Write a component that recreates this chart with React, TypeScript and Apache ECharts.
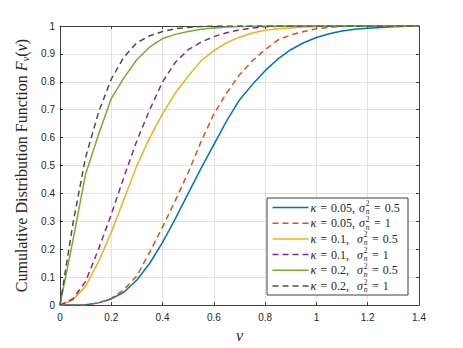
import React, { useEffect, useRef } from "react";
import * as echarts from "echarts";

// x grid of the curves
const V = [0, 0.05, 0.1, 0.15, 0.2, 0.25, 0.3, 0.35, 0.4, 0.45, 0.5, 0.55, 0.6, 0.65, 0.7, 0.75, 0.8, 0.85, 0.9, 0.95, 1.0, 1.05, 1.1, 1.15, 1.2, 1.25, 1.3, 1.35, 1.4];

// CDF values
const F_K005_S05 = [0, 0, 0.001, 0.008, 0.022, 0.047, 0.09, 0.15, 0.225, 0.31, 0.4, 0.49, 0.575, 0.66, 0.735, 0.79, 0.84, 0.882, 0.915, 0.94, 0.959, 0.972, 0.982, 0.988, 0.992, 0.995, 0.997, 0.999, 1];
const F_K005_S1 = [0, 0, 0.001, 0.008, 0.024, 0.056, 0.105, 0.19, 0.28, 0.375, 0.475, 0.585, 0.685, 0.76, 0.825, 0.875, 0.915, 0.95, 0.968, 0.98, 0.99, 0.995, 0.998, 0.999, 1, 1, 1, 1, 1];
const F_K01_S05 = [0, 0.018, 0.068, 0.155, 0.26, 0.38, 0.5, 0.6, 0.685, 0.76, 0.82, 0.875, 0.912, 0.94, 0.96, 0.975, 0.985, 0.99, 0.993, 0.996, 0.998, 0.999, 1, 1, 1, 1, 1, 1, 1];
const F_K01_S1 = [0, 0.022, 0.085, 0.2, 0.325, 0.46, 0.59, 0.7, 0.8, 0.87, 0.915, 0.942, 0.962, 0.976, 0.986, 0.993, 0.997, 0.999, 1, 1, 1, 1, 1, 1, 1, 1, 1, 1, 1];
const F_K02_S05 = [0, 0.23, 0.47, 0.61, 0.74, 0.815, 0.88, 0.925, 0.955, 0.97, 0.98, 0.988, 0.993, 0.996, 0.998, 0.999, 1, 1, 1, 1, 1, 1, 1, 1, 1, 1, 1, 1, 1];
const F_K02_S1 = [0, 0.29, 0.53, 0.69, 0.81, 0.89, 0.94, 0.965, 0.98, 0.99, 0.995, 0.998, 1, 1, 1, 1, 1, 1, 1, 1, 1, 1, 1, 1, 1, 1, 1, 1, 1];

const KAPPA = ["0.05", "0.05", "0.1", "0.1", "0.2", "0.2"];
const SIGMA = ["0.5", "1", "0.5", "1", "0.5", "1"];
const SERIES_DATA = [F_K005_S05, F_K005_S1, F_K01_S05, F_K01_S1, F_K02_S05, F_K02_S1];
const COLORS = ["#0072BD", "#D95319", "#EDB120", "#7E2F8E", "#77AC30", "#4D4D4D"];
const DASHED = [false, true, false, true, false, true];

const X_MIN = 0, X_MAX = 1.4, X_STEP = 0.2;
const Y_MIN = 0, Y_MAX = 1, Y_STEP = 0.1;

const W = 463, H = 348;
const SERIF = "'Liberation Serif', 'DejaVu Serif', serif";
const SANS = "'Liberation Sans', Arial, sans-serif";
const TXT = "#262626";
const AX = "#404040";

let measureCtx: CanvasRenderingContext2D | null = null;
function tw(text: string, font: string) {
  if (!measureCtx) measureCtx = document.createElement("canvas").getContext("2d");
  measureCtx!.font = font;
  return measureCtx!.measureText(text).width;
}

function buildLegend() {
  const boxX = 267, boxY = 198, boxW = 141, boxH = 97;
  const fs = 12, small = 7.5;
  const fItal = `italic ${fs}px ${SERIF}`;
  const fReg = `${fs}px ${SERIF}`;
  const fSmallReg = `${small}px ${SERIF}`;
  const fSmallItal = `italic ${small}px ${SERIF}`;
  const sp = "\u2004";
  const els: any[] = [
    { type: "rect", shape: { x: boxX, y: boxY, width: boxW, height: boxH }, style: { fill: "#fff", stroke: AX, lineWidth: 1 }, z: 100 },
  ];
  KAPPA.forEach((k, i) => {
    const y = 207.5 + i * 15.7;
    els.push({
      type: "line", z: 101,
      shape: { x1: 272.5, y1: y, x2: 308.5, y2: y },
      style: { stroke: COLORS[i], lineWidth: 1.5, lineDash: DASHED[i] ? [6, 4] : null },
    });
    let x = 310.5;
    const add = (text: string, font: string, dy = 0) => {
      els.push({ type: "text", z: 101, x, y: y + dy, style: { text, font, fill: TXT, textAlign: "left", textVerticalAlign: "middle" } });
      return tw(text, font);
    };
    x += add("κ", fItal);
    x += add(`${sp}=${sp}${k},${sp}` + (k.length < 4 ? sp : ""), fReg);
    x += add("σ", fItal) + 0.8;
    const w1 = add("2", fSmallReg, -4);
    const w2 = add("n", fSmallItal, 3.8);
    x += Math.max(w1, w2) + 0.5;
    add(`${sp}=${sp}${SIGMA[i]}`, fReg);
  });
  return els;
}

export default function App() {
  const ref = useRef<HTMLDivElement>(null);
  useEffect(() => {
    if (!ref.current) return;
    const chart = echarts.init(ref.current, null, { renderer: "svg" });
    const fmt = (v: number) => String(+v.toFixed(2));
    const baseAxis = {
      type: "value" as const,
      axisLine: { show: true, onZero: false, lineStyle: { color: AX, width: 1 } },
      axisTick: { show: true, inside: true, length: 3, lineStyle: { color: AX } },
    };
    chart.setOption({
      animation: false,
      grid: { left: 60, right: 44, top: 26, bottom: 38, containLabel: false },
      xAxis: [
        {
          ...baseAxis, min: X_MIN, max: X_MAX, interval: X_STEP, position: "bottom",
          axisLabel: { color: TXT, fontSize: 10, fontFamily: SANS, margin: 7, formatter: fmt },
          splitLine: { show: true, lineStyle: { color: "#e3e3e3", width: 1 } },
          name: "v", nameLocation: "middle", nameGap: 18,
          nameTextStyle: { fontFamily: SERIF, fontStyle: "italic", fontSize: 16, color: TXT },
        },
        {
          ...baseAxis, min: X_MIN, max: X_MAX, interval: X_STEP, position: "top",
          axisLabel: { show: false }, splitLine: { show: false },
        },
      ],
      yAxis: [
        {
          ...baseAxis, min: Y_MIN, max: Y_MAX, interval: Y_STEP, position: "left",
          axisLabel: { color: TXT, fontSize: 10, fontFamily: SANS, margin: 5, formatter: fmt },
          splitLine: { show: true, lineStyle: { color: "#e3e3e3", width: 1 } },
          name: "{r|Cumulative Distribution Function }{i|F}{s|v}{r|(}{i|v}{r|)}",
          nameLocation: "middle", nameGap: 26, nameRotate: 90,
          nameTextStyle: {
            color: TXT,
            rich: {
              r: { fontFamily: SERIF, fontSize: 16, color: TXT, lineHeight: 18 },
              i: { fontFamily: SERIF, fontSize: 16, fontStyle: "italic", color: TXT, lineHeight: 18 },
              s: { fontFamily: SERIF, fontSize: 11, fontStyle: "italic", color: TXT, lineHeight: 18, verticalAlign: "bottom", padding: [6, 0, 0, 0] },
            },
          },
        },
        {
          ...baseAxis, min: Y_MIN, max: Y_MAX, interval: Y_STEP, position: "right",
          axisLabel: { show: false }, splitLine: { show: false },
        },
      ],
      series: SERIES_DATA.map((d, i) => ({
        name: `κ = ${KAPPA[i]}, σ² = ${SIGMA[i]}`,
        type: "line",
        xAxisIndex: 0,
        yAxisIndex: 0,
        showSymbol: false,
        symbol: "none",
        data: V.map((v, j) => [v, d[j]]),
        lineStyle: { color: COLORS[i], width: 1.5, type: DASHED[i] ? [6, 4] : "solid" },
        itemStyle: { color: COLORS[i] },
        z: 2 + i,
      })),
      graphic: buildLegend(),
    });
    return () => chart.dispose();
  }, []);
  return <div ref={ref} style={{ position: "fixed", left: 0, top: 0, width: W, height: H, background: "#fff" }} />;
}
